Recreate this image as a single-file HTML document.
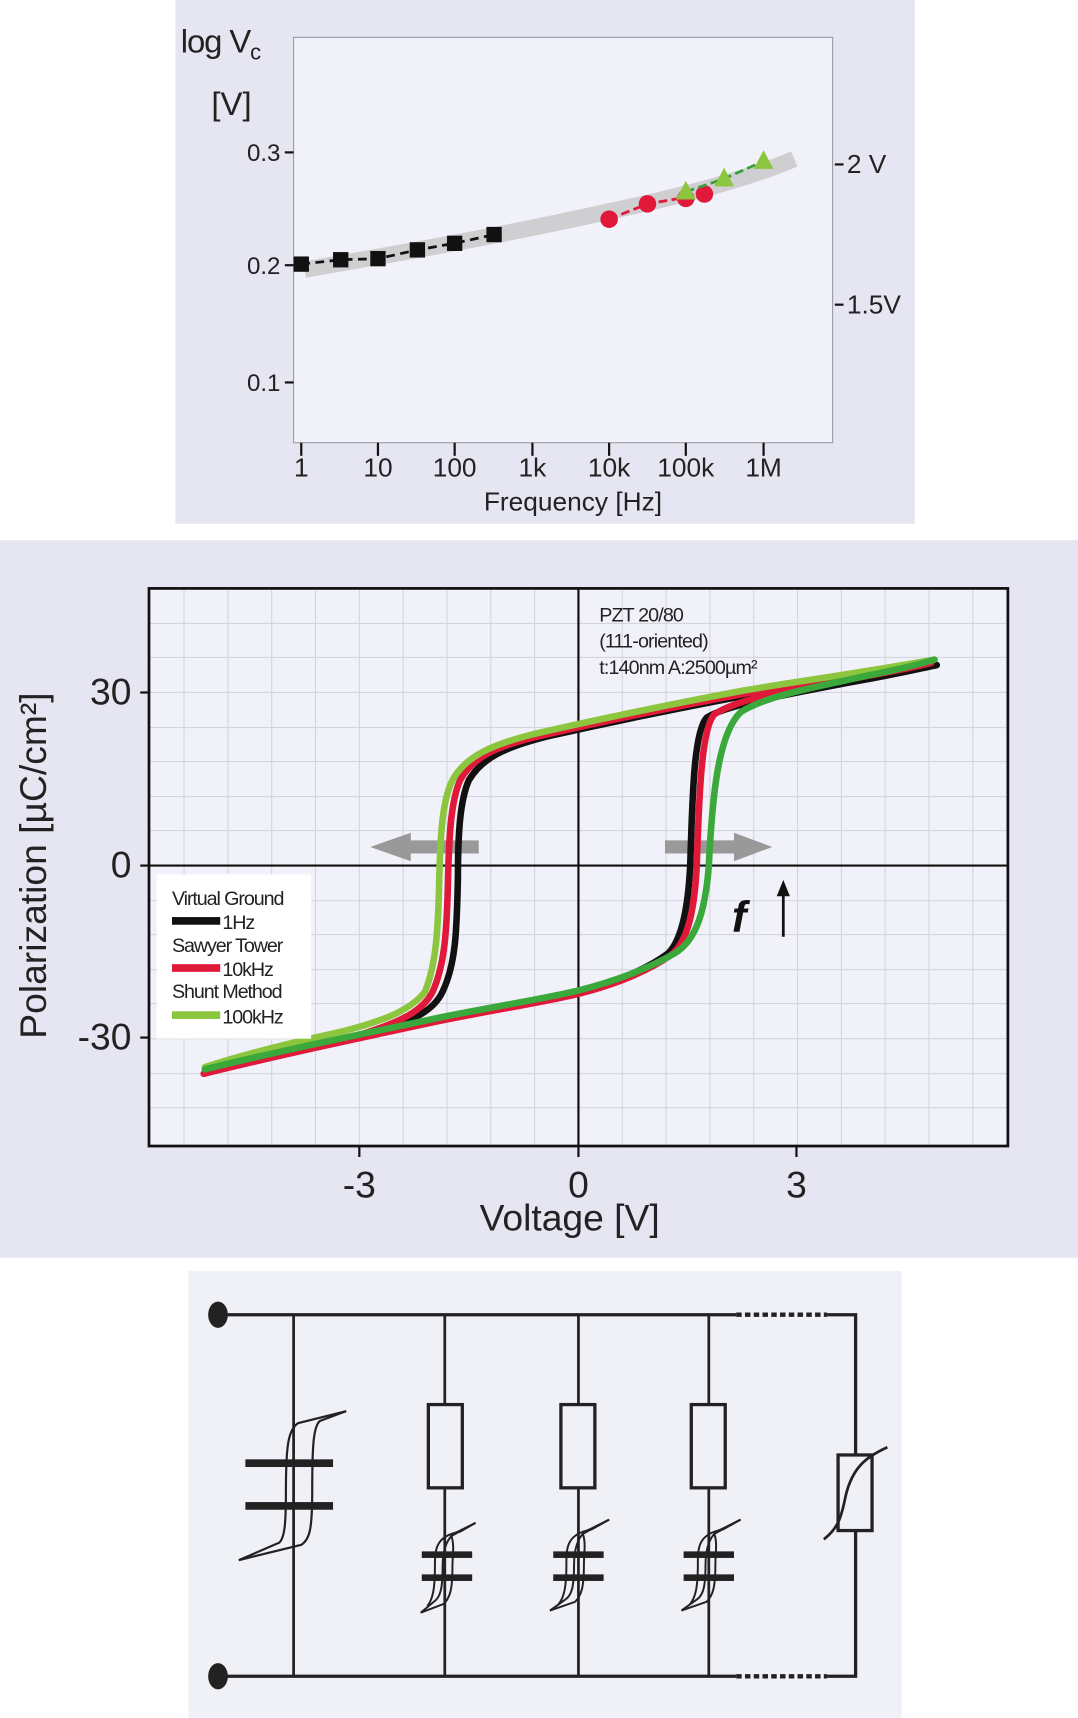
<!DOCTYPE html>
<html><head><meta charset="utf-8"><style>
html,body{margin:0;padding:0;background:#fff;}
svg{display:block;}
text{font-family:"Liberation Sans",sans-serif;}
</style></head><body>
<svg width="1078" height="1718" viewBox="0 0 984 1568" xmlns="http://www.w3.org/2000/svg">
<!-- Panel 1 -->
<rect x="160" y="0" width="675" height="478" fill="#e5e6f1"/>
<rect x="268" y="34" width="492" height="370" fill="#f1f2f9" stroke="#9a9aa2" stroke-width="1"/>
<text x="165" y="48" font-size="30" fill="#222" letter-spacing="-1">log V<tspan font-size="20" dy="6">c</tspan></text>
<text x="193" y="105" font-size="30" fill="#222">[V]</text>
<g font-size="22" fill="#222" text-anchor="end">
<text x="256" y="147">0.3</text><text x="256" y="250">0.2</text><text x="256" y="357">0.1</text>
</g>
<g stroke="#111" stroke-width="2">
<line x1="260" y1="139" x2="268" y2="139"/><line x1="260" y1="242" x2="268" y2="242"/><line x1="260" y1="349" x2="268" y2="349"/>
<line x1="762" y1="150" x2="770" y2="150"/><line x1="762" y1="278" x2="770" y2="278"/>
<line x1="275" y1="404" x2="275" y2="416"/><line x1="345" y1="404" x2="345" y2="416"/><line x1="415" y1="404" x2="415" y2="416"/>
<line x1="486" y1="404" x2="486" y2="416"/><line x1="556" y1="404" x2="556" y2="416"/><line x1="626" y1="404" x2="626" y2="416"/><line x1="697" y1="404" x2="697" y2="416"/>
</g>
<text x="773" y="158" font-size="24" fill="#222">2 V</text>
<text x="773" y="286" font-size="24" fill="#222">1.5V</text>
<g font-size="24" fill="#222" text-anchor="middle">
<text x="275" y="435">1</text><text x="345" y="435">10</text><text x="415" y="435">100</text><text x="486" y="435">1k</text>
<text x="556" y="435">10k</text><text x="626" y="435">100k</text><text x="697" y="435">1M</text>
<text x="523" y="466">Frequency [Hz]</text>
</g>
<path d="M278,246 C400,225 480,210 560,192 C640,175 690,160 725,145" stroke="#cfcfd2" stroke-width="15" fill="none"/>
<polyline points="275,241 311,237 345,236 381,228 415,222 451,214" stroke="#111" stroke-width="2.5" stroke-dasharray="8,5" fill="none"/>
<g fill="#111">
<rect x="268" y="234" width="14" height="14"/><rect x="304" y="230" width="14" height="14"/><rect x="338" y="229" width="14" height="14"/>
<rect x="374" y="221" width="14" height="14"/><rect x="408" y="215" width="14" height="14"/><rect x="444" y="207" width="14" height="14"/>
</g>
<polyline points="556,200 591,186 626,180 643,177" stroke="#e0183a" stroke-width="2.5" stroke-dasharray="8,4" fill="none"/>
<g fill="#e0183a"><circle cx="556" cy="200" r="8"/><circle cx="591" cy="186" r="8"/><circle cx="626" cy="181" r="8"/><circle cx="643" cy="177" r="8"/></g>
<polyline points="626,175 661,163 697,147" stroke="#3a9e3a" stroke-width="2.5" stroke-dasharray="8,4" fill="none"/>
<g fill="#8cc63f"><polygon points="626,165 617,182 635,182"/><polygon points="661,153 652,170 670,170"/><polygon points="697,137 688,154 706,154"/></g>

<!-- Panel 2 -->
<rect x="0" y="493" width="984" height="655" fill="#e5e6f1"/>
<rect x="136" y="537" width="784" height="509" fill="#f1f2f9"/>
<g stroke="#d3d4de" stroke-width="1">
<line x1="168" y1="537" x2="168" y2="1046"/><line x1="208" y1="537" x2="208" y2="1046"/><line x1="248" y1="537" x2="248" y2="1046"/><line x1="288" y1="537" x2="288" y2="1046"/><line x1="328" y1="537" x2="328" y2="1046"/><line x1="368" y1="537" x2="368" y2="1046"/><line x1="408" y1="537" x2="408" y2="1046"/><line x1="448" y1="537" x2="448" y2="1046"/><line x1="488" y1="537" x2="488" y2="1046"/>
<line x1="568" y1="537" x2="568" y2="1046"/><line x1="608" y1="537" x2="608" y2="1046"/><line x1="648" y1="537" x2="648" y2="1046"/><line x1="688" y1="537" x2="688" y2="1046"/><line x1="728" y1="537" x2="728" y2="1046"/><line x1="768" y1="537" x2="768" y2="1046"/><line x1="808" y1="537" x2="808" y2="1046"/><line x1="848" y1="537" x2="848" y2="1046"/><line x1="888" y1="537" x2="888" y2="1046"/>
<line x1="136" y1="569" x2="920" y2="569"/><line x1="136" y1="600" x2="920" y2="600"/><line x1="136" y1="632" x2="920" y2="632"/><line x1="136" y1="664" x2="920" y2="664"/><line x1="136" y1="695" x2="920" y2="695"/><line x1="136" y1="727" x2="920" y2="727"/><line x1="136" y1="758" x2="920" y2="758"/>
<line x1="136" y1="822" x2="920" y2="822"/><line x1="136" y1="853" x2="920" y2="853"/><line x1="136" y1="885" x2="920" y2="885"/><line x1="136" y1="916" x2="920" y2="916"/><line x1="136" y1="948" x2="920" y2="948"/><line x1="136" y1="980" x2="920" y2="980"/><line x1="136" y1="1011" x2="920" y2="1011"/>
</g>
<rect x="136" y="537" width="784" height="509" fill="none" stroke="#111" stroke-width="2.5"/>
<line x1="528" y1="537" x2="528" y2="1046" stroke="#111" stroke-width="2"/>
<line x1="136" y1="790" x2="920" y2="790" stroke="#111" stroke-width="2"/>
<g stroke="#111" stroke-width="2">
<line x1="128" y1="632" x2="136" y2="632"/><line x1="128" y1="790" x2="136" y2="790"/><line x1="128" y1="947" x2="136" y2="947"/>
<line x1="328" y1="1046" x2="328" y2="1056"/><line x1="528" y1="1046" x2="528" y2="1056"/><line x1="727" y1="1046" x2="727" y2="1056"/>
</g>
<g font-size="34" fill="#222" text-anchor="end">
<text x="120" y="643">30</text><text x="120" y="801">0</text><text x="120" y="958">-30</text>
</g>
<g font-size="34" fill="#222" text-anchor="middle">
<text x="328" y="1093">-3</text><text x="528" y="1093">0</text><text x="727" y="1093">3</text>
<text x="520" y="1123">Voltage [V]</text>
</g>
<text transform="translate(42,790) rotate(-90)" font-size="34" fill="#222" text-anchor="middle">Polarization [µC/cm²]</text>
<g font-size="18" fill="#222" letter-spacing="-0.8">
<text x="547" y="567">PZT 20/80</text><text x="547" y="591">(111-oriented)</text><text x="547" y="615">t:140nm A:2500µm²</text>
</g>
<polygon points="437,767 375,767 375,760 338,773 375,786 375,779 437,779" fill="#999"/>
<polygon points="607,767 670,767 670,760 705,773 670,786 670,779 607,779" fill="#999"/>
<text x="668" y="850" font-size="40" font-style="italic" font-weight="bold" font-family="Liberation Serif,serif" fill="#111">f</text>
<line x1="715" y1="855" x2="715" y2="815" stroke="#111" stroke-width="2.5"/>
<polygon points="715,803 709,818 721,818" fill="#111"/>
<g fill="none" stroke-width="6" stroke-linejoin="round" stroke-linecap="round">
<path d="M855,607 C780,620 720,628 680,635 C600,650 540,663 500,672 C460,682 440,692 428,712 C420,730 418,760 418,800 C417,850 416,880 404,905 C395,925 370,935 330,945 C280,957 230,966 190,978" stroke="#111"/>
<path d="M190,978 C260,960 330,945 400,930 C460,918 500,912 528,905 C560,897 590,885 610,870 C622,858 628,830 630,790 C632,730 633,668 645,655 C660,645 700,637 780,622 C820,615 840,610 855,607" stroke="#111"/>
<path d="M850,605 C780,618 720,626 680,633 C600,648 540,661 500,670 C455,680 432,690 420,712 C412,730 410,760 409,800 C408,850 406,880 395,905 C385,925 360,935 320,947 C270,958 225,968 186,980" stroke="#e0183a"/>
<path d="M186,980 C260,962 330,947 400,932 C460,920 500,914 528,907 C560,899 590,887 612,872 C628,860 634,830 636,790 C638,730 640,665 652,652 C670,640 705,632 780,619 C820,612 840,608 850,605" stroke="#e0183a"/>
<path d="M853,602 C780,615 720,623 680,630 C600,645 540,658 500,667 C450,678 425,690 413,712 C404,730 402,760 401,800 C400,850 398,880 388,905 C375,922 350,932 310,942 C260,953 220,963 187,974" stroke="#8cc63f"/>
<path d="M187,976 C260,958 330,944 400,929 C460,917 500,911 528,904 C560,896 592,884 616,870 C636,858 644,830 647,790 C650,730 655,670 676,650 C700,635 740,628 790,617 C825,610 840,606 853,602" stroke="#3aa83a"/>
</g>
<rect x="143" y="798" width="141" height="150" fill="#fff"/>
<g font-size="18" fill="#222" letter-spacing="-1">
<text x="157" y="826">Virtual Ground</text><text x="203" y="848">1Hz</text>
<text x="157" y="869">Sawyer Tower</text><text x="203" y="891">10kHz</text>
<text x="157" y="911">Shunt Method</text><text x="203" y="934">100kHz</text>
</g>
<rect x="157" y="837" width="44" height="7" fill="#111"/>
<rect x="157" y="880" width="44" height="7" fill="#e0183a"/>
<rect x="157" y="923" width="44" height="7" fill="#8cc63f"/>

<!-- Panel 3 -->
<rect x="172" y="1160" width="651" height="408" fill="#f0f1f7"/>
<g stroke="#222" stroke-width="3" fill="none">
<line x1="199" y1="1200" x2="672" y2="1200"/><line x1="199" y1="1530" x2="672" y2="1530"/>
<line x1="672" y1="1200" x2="755" y2="1200" stroke-dasharray="5,3" stroke-width="4"/>
<line x1="672" y1="1530" x2="755" y2="1530" stroke-dasharray="5,3" stroke-width="4"/>
<polyline points="755,1200 781,1200 781,1530 755,1530"/>
</g>
<g stroke="#222" stroke-width="2.5">
<line x1="268" y1="1200" x2="268" y2="1530"/>
<line x1="406" y1="1200" x2="406" y2="1530"/>
<line x1="528" y1="1200" x2="528" y2="1530"/>
<line x1="647" y1="1200" x2="647" y2="1530"/>
</g>
<ellipse cx="199" cy="1200" rx="9" ry="12" fill="#222"/>
<ellipse cx="199" cy="1530" rx="9" ry="12" fill="#222"/>
<rect x="224" y="1332" width="80" height="7" fill="#222"/>
<rect x="224" y="1371" width="80" height="7" fill="#222"/>
<g stroke="#222" stroke-width="2" fill="none">
<path d="M218,1424 L255,1408 C260,1403 261,1390 261,1360 C261,1320 263,1305 272,1299 L316,1288"/>
<path d="M316,1288 L292,1297 C286,1302 285,1320 285,1360 C285,1395 283,1405 275,1410 L218,1424"/>
</g>
<g>
<rect x="391" y="1282" width="31" height="76" fill="#f0f1f7" stroke="#222" stroke-width="3"/>
<rect x="512" y="1282" width="31" height="76" fill="#f0f1f7" stroke="#222" stroke-width="3"/>
<rect x="631" y="1282" width="31" height="76" fill="#f0f1f7" stroke="#222" stroke-width="3"/>
<rect x="385" y="1416" width="46" height="6" fill="#222"/><rect x="385" y="1437" width="46" height="6" fill="#222"/>
<rect x="505" y="1416" width="46" height="6" fill="#222"/><rect x="505" y="1437" width="46" height="6" fill="#222"/>
<rect x="624" y="1416" width="46" height="6" fill="#222"/><rect x="624" y="1437" width="46" height="6" fill="#222"/>
</g>
<g stroke="#222" stroke-width="1.8" fill="none">
<path d="M434,1390 L418,1398 C408,1402 404,1415 404,1430 C404,1450 402,1458 396,1462 L384,1472"/>
<path d="M434,1390 L412,1402 C415,1410 413,1420 413,1430 C413,1450 411,1458 405,1464 L384,1472"/>
<path d="M434,1390 L420,1398 C397,1402 397,1415 397,1430 C397,1450 395,1460 390,1466"/>
<path d="M556,1387 L538,1396 C528,1400 524,1413 524,1428 C524,1448 522,1456 516,1460 L502,1470"/>
<path d="M556,1387 L532,1400 C535,1408 533,1418 533,1428 C533,1448 531,1456 525,1462 L502,1470"/>
<path d="M556,1387 L540,1396 C517,1400 517,1413 517,1428 C517,1448 515,1458 510,1464"/>
<path d="M676,1387 L658,1396 C648,1400 644,1413 644,1428 C644,1448 642,1456 636,1460 L622,1470"/>
<path d="M676,1387 L652,1400 C655,1408 653,1418 653,1428 C653,1448 651,1456 645,1462 L622,1470"/>
<path d="M676,1387 L660,1396 C637,1400 637,1413 637,1428 C637,1448 635,1458 630,1464"/>
</g>
<rect x="765" y="1328" width="31" height="69" fill="#f0f1f7" stroke="#222" stroke-width="3"/>
<path d="M752,1405 C765,1395 768,1385 772,1365 C778,1340 790,1330 810,1321" stroke="#222" stroke-width="2.5" fill="none"/>
</svg>
</body></html>
